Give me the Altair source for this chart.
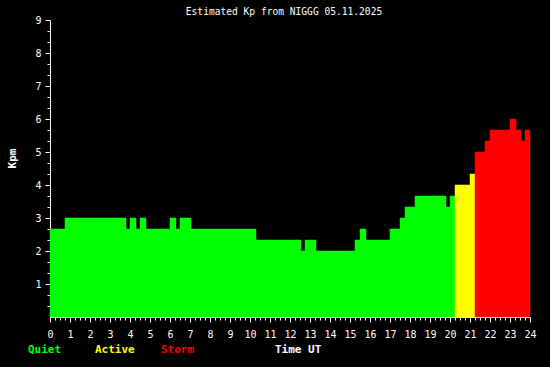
import altair as alt
import pandas as pd

# Step segments of estimated Kp (hours UT)
seg_start = [0.0, 0.75, 3.8, 4.0, 4.3, 4.5, 4.8, 6.0, 6.3, 6.5, 7.05, 10.3, 12.55, 12.75,
             13.3, 15.25, 15.5, 15.8, 17.0, 17.5, 17.75, 18.25, 19.8, 20.0, 20.25, 21.0,
             21.25, 21.75, 22.0, 23.0, 23.3, 23.55, 23.75]
seg_end = [0.75, 3.8, 4.0, 4.3, 4.5, 4.8, 6.0, 6.3, 6.5, 7.05, 10.3, 12.55, 12.75, 13.3,
           15.25, 15.5, 15.8, 17.0, 17.5, 17.75, 18.25, 19.8, 20.0, 20.25, 21.0, 21.25,
           21.75, 22.0, 23.0, 23.3, 23.55, 23.75, 24.0]
kp = [2.667, 3.0, 2.667, 3.0, 2.667, 3.0, 2.667, 3.0, 2.667, 3.0, 2.667, 2.333, 2.0, 2.333,
      2.0, 2.333, 2.667, 2.333, 2.667, 3.0, 3.333, 3.667, 3.333, 3.667, 4.0, 4.333,
      5.0, 5.333, 5.667, 6.0, 5.667, 5.333, 5.667]

levels = ["Quiet", "Active", "Storm"]
level_colors = ["#00ff00", "#ffff00", "#ff0000"]

x_ticks = [i / 4 for i in range(0, 97)]
y_ticks = [round(i / 3, 4) for i in range(1, 28)]

df = pd.DataFrame({"start": seg_start, "end": seg_end, "kp": kp})

FONT = "DejaVu Sans Mono"

x_axis = alt.Axis(
    values=x_ticks,
    labelExpr="abs(datum.value - round(datum.value)) < 0.01 ? format(round(datum.value), 'd') : ''",
    tickSize={"condition": {"test": "abs(datum.value - round(datum.value)) < 0.01", "value": 5}, "value": 3},
    labelOverlap=False, labelFlush=False, labelPadding=7,
    domainColor="white", tickColor="white", labelColor="white",
    labelFont=FONT, labelFontSize=10, grid=False, title=None,
)
y_axis = alt.Axis(
    values=y_ticks,
    labelExpr="abs(datum.value - round(datum.value)) < 0.01 ? format(round(datum.value), 'd') : ''",
    tickSize={"condition": {"test": "abs(datum.value - round(datum.value)) < 0.01", "value": 5}, "value": 3},
    labelOverlap=False, labelFlush=False, labelPadding=4,
    domainColor="white", tickColor="white", labelColor="white",
    labelFont=FONT, labelFontSize=10, grid=False,
    title="Kpm", titleColor="white", titleFont=FONT, titleFontSize=11, titleFontWeight="bold",
    titleX=-38, titleY=138, titleAngle=-90, titleAlign="center", titleBaseline="middle",
)

bars = alt.Chart(df).transform_calculate(
    level="datum.kp >= 5 ? 'Storm' : (datum.kp >= 4 ? 'Active' : 'Quiet')"
).mark_rect(strokeWidth=0.5).encode(
    x=alt.X("start:Q", scale=alt.Scale(domain=[0, 24], nice=False, zero=True), axis=x_axis),
    x2="end:Q",
    y=alt.Y("kp:Q", scale=alt.Scale(domain=[0, 9], nice=False), axis=y_axis),
    y2=alt.datum(0),
    color=alt.Color("level:N", scale=alt.Scale(domain=levels, range=level_colors), legend=None),
    stroke=alt.Color("level:N", scale=alt.Scale(domain=levels, range=level_colors), legend=None),
)

def label(txt, color, px):
    return alt.Chart(pd.DataFrame({"t": [txt]})).mark_text(
        align="left", baseline="middle", font=FONT, fontSize=11, fontWeight="bold", color=color
    ).encode(x=alt.value(px), y=alt.value(330), text="t:N")

chart = alt.layer(
    bars,
    label(levels[0], level_colors[0], -22),
    label(levels[1], level_colors[1], 45),
    label(levels[2], level_colors[2], 111),
    label("Time UT", "white", 225),
).properties(
    width=480, height=297,
    title=alt.TitleParams("Estimated Kp from NIGGG 05.11.2025", font=FONT, fontSize=9.6,
                          fontWeight="normal", color="white", anchor="middle", offset=-2, dx=-6),
    autosize=alt.AutoSizeParams(type="none"),
    padding={"left": 50, "top": 20, "right": 20, "bottom": 50},
).configure(background="black").configure_view(stroke=None)

chart.save("out.html", embed_options={"renderer": "svg", "actions": False})
